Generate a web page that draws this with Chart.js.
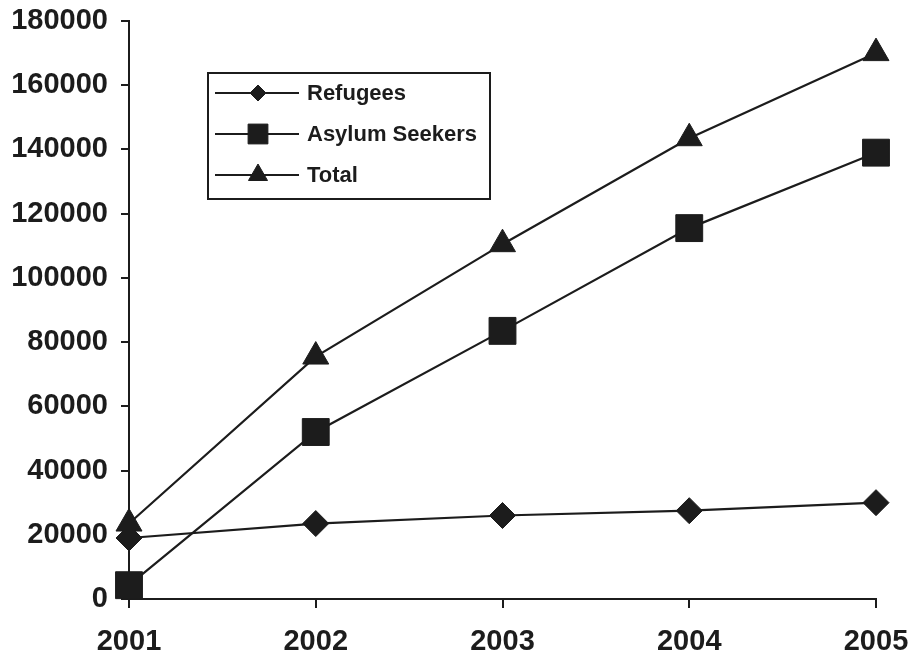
<!DOCTYPE html>
<html>
<head>
<meta charset="utf-8">
<script src="https://cdn.jsdelivr.net/npm/chart.js@4/dist/chart.umd.min.js"></script>
<style>
  html, body { margin: 0; padding: 0; background: #fff; }
  canvas { display: block; }
</style>
</head>
<body>
<canvas id="chart" width="916" height="660"></canvas>
<script>
// ==== DATA ====
const years = ["2001", "2002", "2003", "2004", "2005"];
const refugees = [19000, 23500, 26000, 27500, 30000];
const asylumSeekers = [4300, 52000, 83500, 115500, 139000];
const total = [23500, 75500, 110500, 143500, 170000];
const yTicks = [0, 20000, 40000, 60000, 80000, 100000, 120000, 140000, 160000, 180000];

const INK = "#1c1c1c";
const FONT = "'Liberation Sans', Arial, sans-serif";

// ==== BOXED LEGEND INSIDE THE PLOT ====
const boxLegend = {
    id: "boxLegend",
    afterDraw(chart, args, opts) {
        const ctx = chart.ctx;
        ctx.save();
        ctx.strokeStyle = INK;
        ctx.lineWidth = 2;
        ctx.strokeRect(opts.x, opts.y, opts.w, opts.h);

        chart.data.datasets.forEach((ds, i) => {
            const cy = opts.y + opts.rowTop + i * opts.rowGap;
            ctx.strokeStyle = INK;
            ctx.lineWidth = 2;
            ctx.beginPath();
            ctx.moveTo(opts.x + 7, cy);
            ctx.lineTo(opts.x + 91, cy);
            ctx.stroke();

            ctx.fillStyle = INK;
            ctx.strokeStyle = INK;
            ctx.lineWidth = 1;
            Chart.helpers.drawPoint(ctx, {
                pointStyle: ds.pointStyle,
                radius: opts.radii[i],
                rotation: 0,
                borderWidth: 1
            }, opts.x + 50, cy);

            ctx.fillStyle = INK;
            ctx.font = "bold 22px " + FONT;
            ctx.textBaseline = "middle";
            ctx.textAlign = "left";
            ctx.fillText(ds.label, opts.x + 99, cy + 1);
        });
        ctx.restore();
    }
};

function makeSet(label, data, style, radius) {
    return {
        label,
        data,
        borderColor: INK,
        backgroundColor: INK,
        borderWidth: 2.2,
        pointStyle: style,
        pointRadius: radius,
        pointHoverRadius: radius,
        pointBackgroundColor: INK,
        pointBorderColor: INK,
        pointBorderWidth: 1,
        tension: 0,
        clip: false
    };
}

new Chart(document.getElementById("chart"), {
    type: "line",
    data: {
        labels: years,
        datasets: [
            makeSet("Refugees", refugees, "rectRot", 13),
            makeSet("Asylum Seekers", asylumSeekers, "rect", 19),
            makeSet("Total", total, "triangle", 15)
        ]
    },
    plugins: [boxLegend],
    options: {
        responsive: false,
        animation: false,
        devicePixelRatio: 1,
        layout: { padding: { top: 21, right: 40, bottom: 0, left: 0 } },
        plugins: {
            legend: { display: false },
            tooltip: { enabled: false },
            boxLegend: { x: 208, y: 73, w: 282, h: 126, rowTop: 20, rowGap: 41, radii: [8, 14, 11] }
        },
        scales: {
            x: {
                offset: false,
                afterFit: scale => {
                    scale.height = 61;
                    scale.paddingLeft = 0;
                    scale.paddingRight = 0;
                },
                grid: { display: true, drawOnChartArea: false, drawTicks: true, tickLength: 9, color: INK, lineWidth: 2 },
                border: { display: true, color: INK, width: 2 },
                ticks: {
                    color: INK,
                    padding: 17,
                    maxRotation: 0,
                    font: { family: FONT, size: 29, weight: "bold" }
                }
            },
            y: {
                min: 0,
                max: 180000,
                afterBuildTicks: scale => { scale.ticks = yTicks.map(v => ({ value: v })); },
                afterFit: scale => {
                    scale.width = 129;
                    scale.paddingTop = 0;
                    scale.paddingBottom = 0;
                },
                grid: { display: true, drawOnChartArea: false, drawTicks: true, tickLength: 8, color: INK, lineWidth: 2 },
                border: { display: true, color: INK, width: 2 },
                ticks: {
                    color: INK,
                    padding: 13,
                    callback: v => String(v),
                    font: { family: FONT, size: 29, weight: "bold" }
                }
            }
        }
    }
});
</script>
</body>
</html>
